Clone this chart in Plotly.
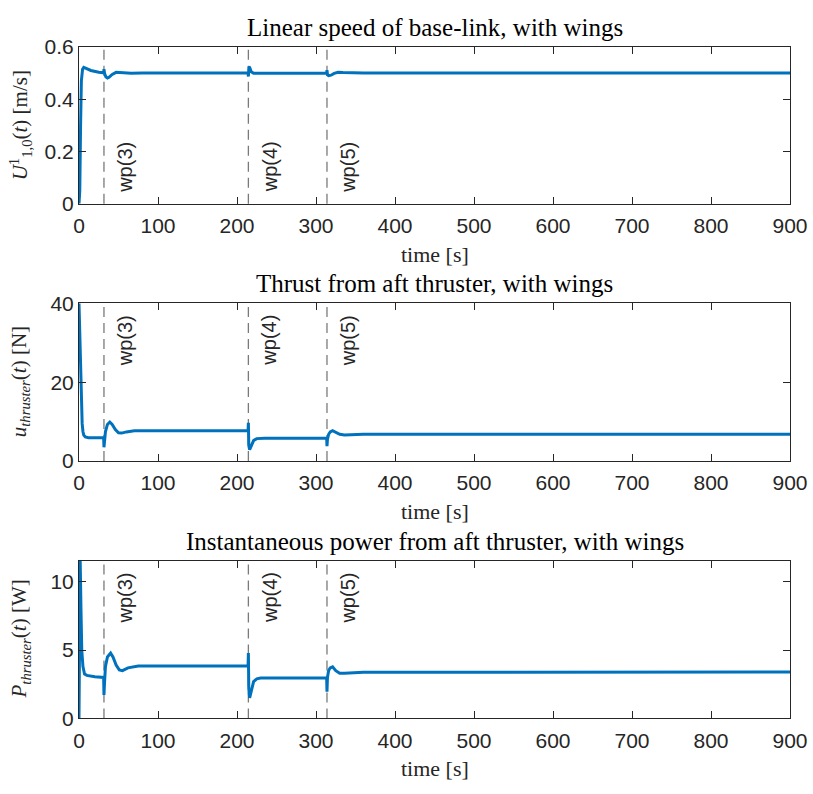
import plotly.graph_objects as go

# ---------------- data ----------------
speed_t = [0, 1.0, 2.0, 3.0, 4.5, 6, 9, 15, 25, 31.2, 31.6, 32.4, 34, 36, 38, 42, 47, 52, 58, 66, 80, 214.0,
           214.4, 215.2, 216.5, 218, 221, 225, 235, 313.5, 313.9, 314.6, 316, 319, 323, 328, 334, 345, 360, 900]
speed_v = [0, 0.05, 0.3, 0.47, 0.515, 0.522, 0.518, 0.51, 0.503, 0.501, 0.515, 0.498, 0.486, 0.481, 0.484,
           0.495, 0.503, 0.502, 0.5, 0.499, 0.5, 0.5, 0.487, 0.525, 0.518, 0.505, 0.499, 0.499, 0.5, 0.5, 0.511,
           0.493, 0.49, 0.492, 0.499, 0.503, 0.502, 0.5, 0.5, 0.5]

thrust_t = [0, 1, 2, 3, 4, 5, 6, 8, 12, 20, 31.2, 31.6, 32.3, 33.5, 36, 39, 42, 46, 50, 54, 60, 70, 100, 214.0,
            214.4, 214.9, 216, 218, 221, 225, 235, 313.5, 313.9, 314.5, 316, 318, 321, 325, 330, 336, 345, 360,
            400, 900]
thrust_v = [40, 32, 22, 14, 9.5, 7.5, 6.6, 6.1, 5.9, 5.9, 5.9, 3.5, 5.0, 7.5, 9.3, 9.9, 9.3, 8.0, 7.2, 7.1, 7.4,
            7.7, 7.7, 7.7, 9.7, 4.0, 2.9, 3.8, 5.2, 5.7, 5.8, 5.8, 3.8, 5.5, 6.8, 7.4, 7.7, 7.3, 6.8, 6.6, 6.7,
            6.8, 6.8, 6.8]

power_t = [0, 0.8, 1.5, 2.5, 3.5, 5, 7, 10, 20, 31.2, 31.6, 32.3, 33.5, 36, 40, 43, 47, 51, 55, 62, 75, 100,
           214.0, 214.4, 214.9, 216, 218, 221, 225, 230, 313.5, 313.9, 314.5, 316, 318, 321, 325, 330, 336, 345,
           360, 900]
power_v = [0, 6, 11.6, 8, 5, 3.8, 3.25, 3.15, 3.05, 3.0, 1.72, 2.6, 3.8, 4.5, 4.78, 4.5, 3.9, 3.55, 3.5, 3.7,
           3.84, 3.84, 3.84, 4.78, 2.2, 1.5, 2.0, 2.7, 2.9, 2.95, 2.95, 1.96, 3.0, 3.5, 3.7, 3.78, 3.5, 3.3, 3.3,
           3.35, 3.38, 3.4]

wp_times = [31.6, 214.4, 313.9]
wp_labels = ["wp(3)", "wp(4)", "wp(5)"]

titles = ["Linear speed of base-link, with wings",
          "Thrust from aft thruster, with wings",
          "Instantaneous power from aft thruster, with wings"]
ylabels = ["<i>U</i><sup>1</sup><sub>1,0</sub>(<i>t</i>) [m/s]",
           "<i>u</i><sub><i>thruster</i></sub>(<i>t</i>) [N]",
           "<i>P</i><sub><i>thruster</i></sub>(<i>t</i>) [W]"]
xlabel = "time [s]"
x_ticks = [0, 100, 200, 300, 400, 500, 600, 700, 800, 900]
y_ticks = [[0, 0.2, 0.4, 0.6], [0, 20, 40], [0, 5, 10]]
y_ticktext = [["0", "0.2", "0.4", "0.6"], ["0", "20", "40"], ["0", "5", "10"]]
y_ranges = [[0, 0.6], [0, 40], [0, 11.55]]

# ---------------- figure ----------------
W, H = 813, 794
LINE = "#0072BD"
AX = "#262626"
SERIF = "Liberation Serif"
SANS = "Liberation Sans"

# pixel rows of the plot areas (top, bottom)
rows_px = [(36, 197.5), (300, 462.5), (565, 727.5)]
domains = [[1 - b / H, 1 - t / H] for t, b in rows_px]

fig = go.Figure()
series = [(speed_t, speed_v), (thrust_t, thrust_v), (power_t, power_v)]
annotations = []
shapes = []
for i, (tt, vv) in enumerate(series):
    xa = "x" if i == 0 else f"x{i+1}"
    ya = "y" if i == 0 else f"y{i+1}"
    fig.add_trace(go.Scatter(x=tt, y=vv, mode="lines", line=dict(color=LINE, width=3),
                             xaxis=xa, yaxis=ya, showlegend=False, cliponaxis=True))
    axkey = "" if i == 0 else str(i + 1)
    fig.layout[f"xaxis{axkey}"] = dict(
        domain=[0, 1], anchor=ya, range=[0, 900], tickvals=x_ticks,
        ticks="inside", ticklen=7, tickcolor=AX, showline=True, linecolor=AX, linewidth=1,
        mirror="ticks", showgrid=False, zeroline=False, ticklabelstandoff=3,
        tickfont=dict(family=SANS, size=21, color=AX))
    fig.layout[f"yaxis{axkey}"] = dict(
        domain=domains[i], anchor=xa, range=y_ranges[i], tickvals=y_ticks[i], ticktext=y_ticktext[i],
        ticks="inside", ticklen=7, tickcolor=AX, showline=True, linecolor=AX, linewidth=1,
        mirror="ticks", showgrid=False, zeroline=False,
        tickfont=dict(family=SANS, size=21, color=AX))
    # waypoint lines and labels
    for wt, wl in zip(wp_times, wp_labels):
        shapes.append(dict(type="line", xref=xa, yref=f"{ya} domain", x0=wt, x1=wt, y0=0, y1=1,
                           line=dict(color="#7a7a7a", width=1.3, dash="10px,6px"), layer="below"))
        if i == 0:
            annotations.append(dict(x=wt, xref=xa, y=0.06, yref=f"{ya} domain", text=wl, textangle=-90,
                                    showarrow=False, xanchor="left", yanchor="bottom", xshift=8,
                                    font=dict(family=SANS, size=20, color=AX)))
        else:
            annotations.append(dict(x=wt, xref=xa, y=0.94, yref=f"{ya} domain", text=wl, textangle=-90,
                                    showarrow=False, xanchor="left", yanchor="top", xshift=8,
                                    font=dict(family=SANS, size=20, color=AX)))
    # titles
    annotations.append(dict(x=0.5, xref="paper", y=domains[i][1], yref="paper", text=titles[i],
                            showarrow=False, xanchor="center", yanchor="bottom", yshift=4,
                            font=dict(family=SERIF, size=25, color="black")))
    # x label
    annotations.append(dict(x=0.5, xref="paper", y=domains[i][0], yref="paper", text=xlabel,
                            showarrow=False, xanchor="center", yanchor="top", yshift=-36,
                            font=dict(family=SERIF, size=22, color=AX)))
    # y label
    annotations.append(dict(x=-59 / 711, xref="paper", y=(domains[i][0] + domains[i][1]) / 2, yref="paper",
                            text=ylabels[i], textangle=-90, showarrow=False, xanchor="center",
                            yanchor="middle", font=dict(family=SERIF, size=21, color=AX)))

fig.update_layout(width=W, height=H, margin=dict(l=79, r=23, t=0, b=0),
                  paper_bgcolor="white", plot_bgcolor="white",
                  annotations=annotations, shapes=shapes)

fig.write_html("out.html")
